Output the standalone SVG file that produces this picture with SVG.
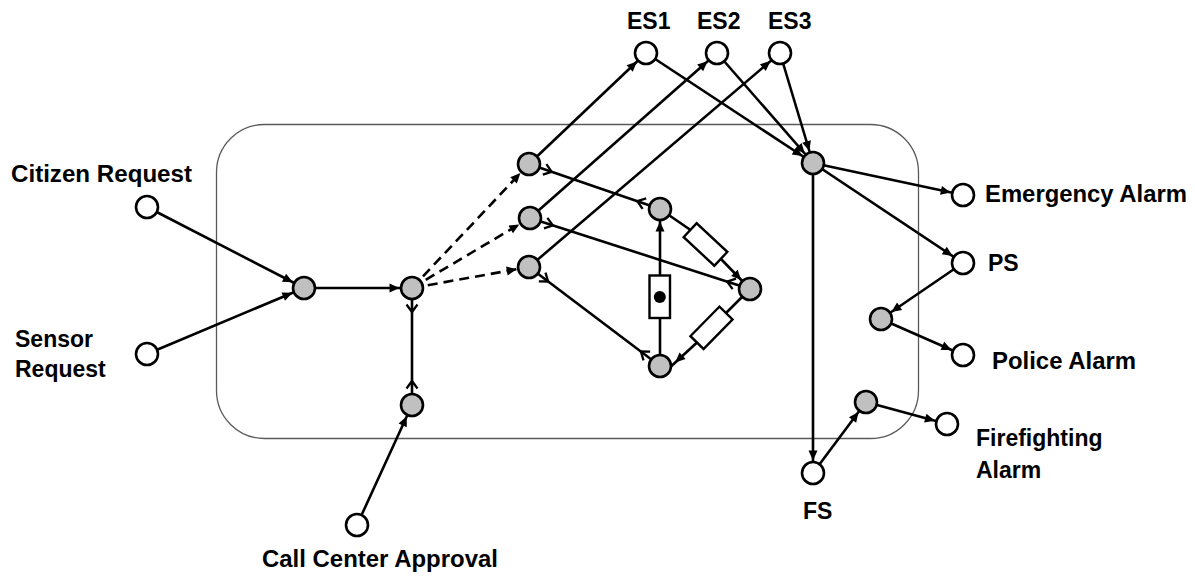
<svg xmlns="http://www.w3.org/2000/svg" width="1195" height="577" viewBox="0 0 1195 577">
<defs>
<style>
.lbl{font-family:"Liberation Sans",Arial,sans-serif;font-weight:bold;font-size:23px;fill:#000}
.pl{fill:#fff;stroke:#000;stroke-width:2.6}
.tr{fill:#c0c0c0;stroke:#000;stroke-width:2.6}
.arc{fill:none;stroke:#000;stroke-width:2.6;marker-end:url(#ah)}
.dash{stroke-dasharray:10 6}
.bi{fill:none;stroke:#000;stroke-width:2.6;marker-start:url(#chev);marker-end:url(#chev)}
.box{fill:#fff;stroke:#000;stroke-width:2.4}
</style>
<marker id="ah" markerUnits="userSpaceOnUse" orient="auto" markerWidth="1" markerHeight="1" style="overflow:visible">
<path d="M -12.5 0 L -22.5 -4.5 L -22.5 4.5 Z" fill="#000"/>
</marker>
<marker id="chev" markerUnits="userSpaceOnUse" orient="auto-start-reverse" markerWidth="1" markerHeight="1" style="overflow:visible">
<path d="M -16.5 -5.5 L -24 0 L -16.5 5.5" fill="none" stroke="#000" stroke-width="2.3"/>
</marker>
</defs>
<rect id="boundary" x="216.5" y="124.5" width="702" height="314" rx="48" ry="48" fill="none" stroke="#5a5a5a" stroke-width="1.3"/>
<g id="connectors">
<line class="arc" x1="147" y1="207" x2="304" y2="288"/>
<line class="arc" x1="147" y1="354" x2="304" y2="288"/>
<line class="arc" x1="304" y1="288" x2="412" y2="288"/>
<line class="arc" x1="357" y1="525" x2="412" y2="405"/>
<line class="bi" x1="412" y1="288" x2="412" y2="405"/>
<line class="arc dash" x1="412" y1="288" x2="529" y2="164"/>
<line class="arc dash" x1="412" y1="288" x2="530" y2="218"/>
<line class="arc dash" x1="412" y1="288" x2="529" y2="267"/>
<line class="arc" x1="529" y1="164" x2="646" y2="53"/>
<line class="arc" x1="530" y1="218" x2="717" y2="53"/>
<line class="arc" x1="529" y1="267" x2="780" y2="53"/>
<line class="arc" x1="646" y1="53" x2="813" y2="163"/>
<line class="arc" x1="717" y1="53" x2="813" y2="163"/>
<line class="arc" x1="780" y1="53" x2="813" y2="163"/>
<line class="bi" x1="529" y1="164" x2="660" y2="209"/>
<line class="bi" x1="530" y1="218" x2="750" y2="289"/>
<line class="bi" x1="529" y1="267" x2="660" y2="366"/>
<path class="arc" d="M660,366 L660,209"/>
<path class="arc" d="M660,209 L690.5,230 L721,259 L750,289"/>
<path class="arc" d="M750,289 L726,313 L697,342.5 L666,371"/>
<line class="arc" x1="813" y1="163" x2="963" y2="195"/>
<line class="arc" x1="813" y1="163" x2="963" y2="263"/>
<line class="arc" x1="813" y1="163" x2="813" y2="473"/>
<line class="arc" x1="963" y1="263" x2="881" y2="319"/>
<line class="arc" x1="881" y1="319" x2="963" y2="355"/>
<line class="arc" x1="813" y1="473" x2="866" y2="402"/>
<line class="arc" x1="866" y1="402" x2="947" y2="424"/>
<rect class="box" x="-21" y="-9.5" width="42" height="19" transform="translate(705.5 244.5) rotate(43)"/>
<rect class="box" x="-20.7" y="-9.2" width="41.4" height="18.4" transform="translate(711.5 327.8) rotate(-45.5)"/>
<rect class="box" x="649.5" y="275.5" width="20.5" height="42.5"/>
<circle cx="659.8" cy="297" r="6" fill="#000"/>
</g>
<g id="citizen-request"><circle class="pl" cx="147" cy="207" r="11"/><text class="lbl" x="11" y="182" textLength="181" lengthAdjust="spacingAndGlyphs">Citizen Request</text></g>
<g id="sensor-request"><circle class="pl" cx="147" cy="354" r="11"/><text class="lbl" x="15" y="347">Sensor</text><text class="lbl" x="15" y="377">Request</text></g>
<g id="t-merge"><circle class="tr" cx="304" cy="288" r="11"/></g>
<g id="t-dispatch"><circle class="tr" cx="412" cy="288" r="11"/></g>
<g id="t-approval"><circle class="tr" cx="412" cy="405" r="11"/></g>
<g id="call-center-approval"><circle class="pl" cx="357" cy="525" r="11"/><text class="lbl" x="262" y="567" textLength="236" lengthAdjust="spacingAndGlyphs">Call Center Approval</text></g>
<g id="a1"><circle class="tr" cx="529" cy="164" r="11"/></g>
<g id="a2"><circle class="tr" cx="530" cy="218" r="11"/></g>
<g id="a3"><circle class="tr" cx="529" cy="267" r="11"/></g>
<g id="d-top"><circle class="tr" cx="660" cy="209" r="11"/></g>
<g id="d-right"><circle class="tr" cx="750" cy="289" r="11"/></g>
<g id="d-bottom"><circle class="tr" cx="660" cy="366" r="11"/></g>
<g id="es1"><circle class="pl" cx="646" cy="53" r="11"/><text class="lbl" x="627" y="29">ES1</text></g>
<g id="es2"><circle class="pl" cx="717" cy="53" r="11"/><text class="lbl" x="697" y="29">ES2</text></g>
<g id="es3"><circle class="pl" cx="780" cy="53" r="11"/><text class="lbl" x="768" y="29">ES3</text></g>
<g id="t-emergency"><circle class="tr" cx="813" cy="163" r="11"/></g>
<g id="emergency-alarm"><circle class="pl" cx="963" cy="195" r="11"/><text class="lbl" x="985" y="202" textLength="202" lengthAdjust="spacingAndGlyphs">Emergency Alarm</text></g>
<g id="ps"><circle class="pl" cx="963" cy="263" r="11"/><text class="lbl" x="988" y="271">PS</text></g>
<g id="t-police"><circle class="tr" cx="881" cy="319" r="11"/></g>
<g id="police-alarm"><circle class="pl" cx="963" cy="355" r="11"/><text class="lbl" x="992" y="369" textLength="144" lengthAdjust="spacingAndGlyphs">Police Alarm</text></g>
<g id="fs"><circle class="pl" cx="813" cy="473" r="11"/><text class="lbl" x="803" y="519">FS</text></g>
<g id="t-fire"><circle class="tr" cx="866" cy="402" r="11"/></g>
<g id="firefighting-alarm"><circle class="pl" cx="947" cy="424" r="11"/><text class="lbl" x="976" y="446">Firefighting</text><text class="lbl" x="976" y="478">Alarm</text></g>
</svg>
